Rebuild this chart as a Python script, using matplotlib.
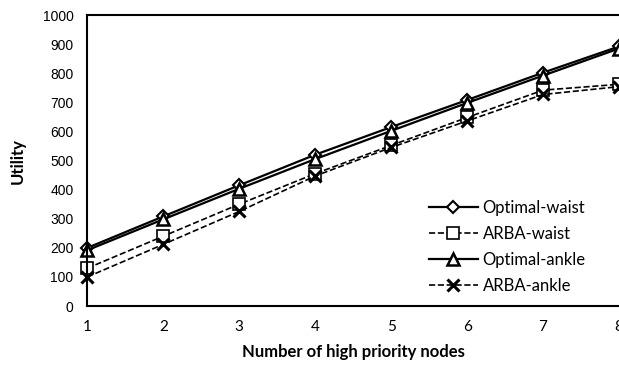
import numpy as np
import matplotlib
matplotlib.use('Agg')
import matplotlib.pyplot as plt

# data
nodes = [1, 2, 3, 4, 5, 6, 7, 8]
optimal_waist = [200, 308, 415, 520, 615, 708, 802, 892]
arba_waist = [130, 240, 350, 455, 552, 648, 742, 762]
optimal_ankle = [192, 298, 403, 505, 602, 698, 792, 885]
arba_ankle = [100, 212, 325, 447, 545, 636, 727, 754]

fig = plt.figure(figsize=(6.19, 3.67), dpi=100)
ax = fig.add_axes([0.141, 0.166, 0.859, 0.793])

ax.plot(nodes, optimal_waist, '-', color='black', lw=1.6, marker='D', markersize=6,
        markerfacecolor='white', markeredgecolor='black', markeredgewidth=1.5,
        label='Optimal-waist', clip_on=False)
ax.plot(nodes, arba_waist, '--', color='black', lw=1.2, marker='s', markersize=8,
        markerfacecolor='white', markeredgecolor='black', markeredgewidth=1.2,
        label='ARBA-waist', clip_on=False)
ax.plot(nodes, optimal_ankle, '-', color='black', lw=1.6, marker='^', markersize=8,
        markerfacecolor='white', markeredgecolor='black', markeredgewidth=1.8,
        label='Optimal-ankle', clip_on=False)
ax.plot(nodes, arba_ankle, '--', color='black', lw=1.2, marker='x', markersize=8,
        markeredgewidth=2.2, label='ARBA-ankle', clip_on=False)

ax.set_xlim(1, 8)
ax.set_ylim(0, 1000)
ax.set_xticks(nodes)
ax.set_yticks(range(0, 1001, 100))
ax.tick_params(length=0, pad=10)
for lab in ax.get_xticklabels():
    lab.set_fontfamily('Lato')
    lab.set_fontsize(11)
for lab in ax.get_yticklabels():
    lab.set_fontfamily('Liberation Sans')
    lab.set_fontsize(10)

for s in ['top', 'left', 'bottom']:
    ax.spines[s].set_linewidth(1.5)
ax.spines['right'].set_visible(False)

ax.set_xlabel('Number of high priority nodes', fontfamily='Lato', fontweight='bold',
              fontsize=12, labelpad=7)
ax.set_ylabel('Utility', fontfamily='Lato', fontweight='bold', fontsize=12, labelpad=12)

ax.legend(loc='lower right', bbox_to_anchor=(0.95, 0.02), frameon=False,
          prop={'family': 'Lato', 'size': 12}, handlelength=2.9, labelspacing=0.6,
          handletextpad=0.3, borderaxespad=0)

fig.savefig('out.png', dpi=100)
